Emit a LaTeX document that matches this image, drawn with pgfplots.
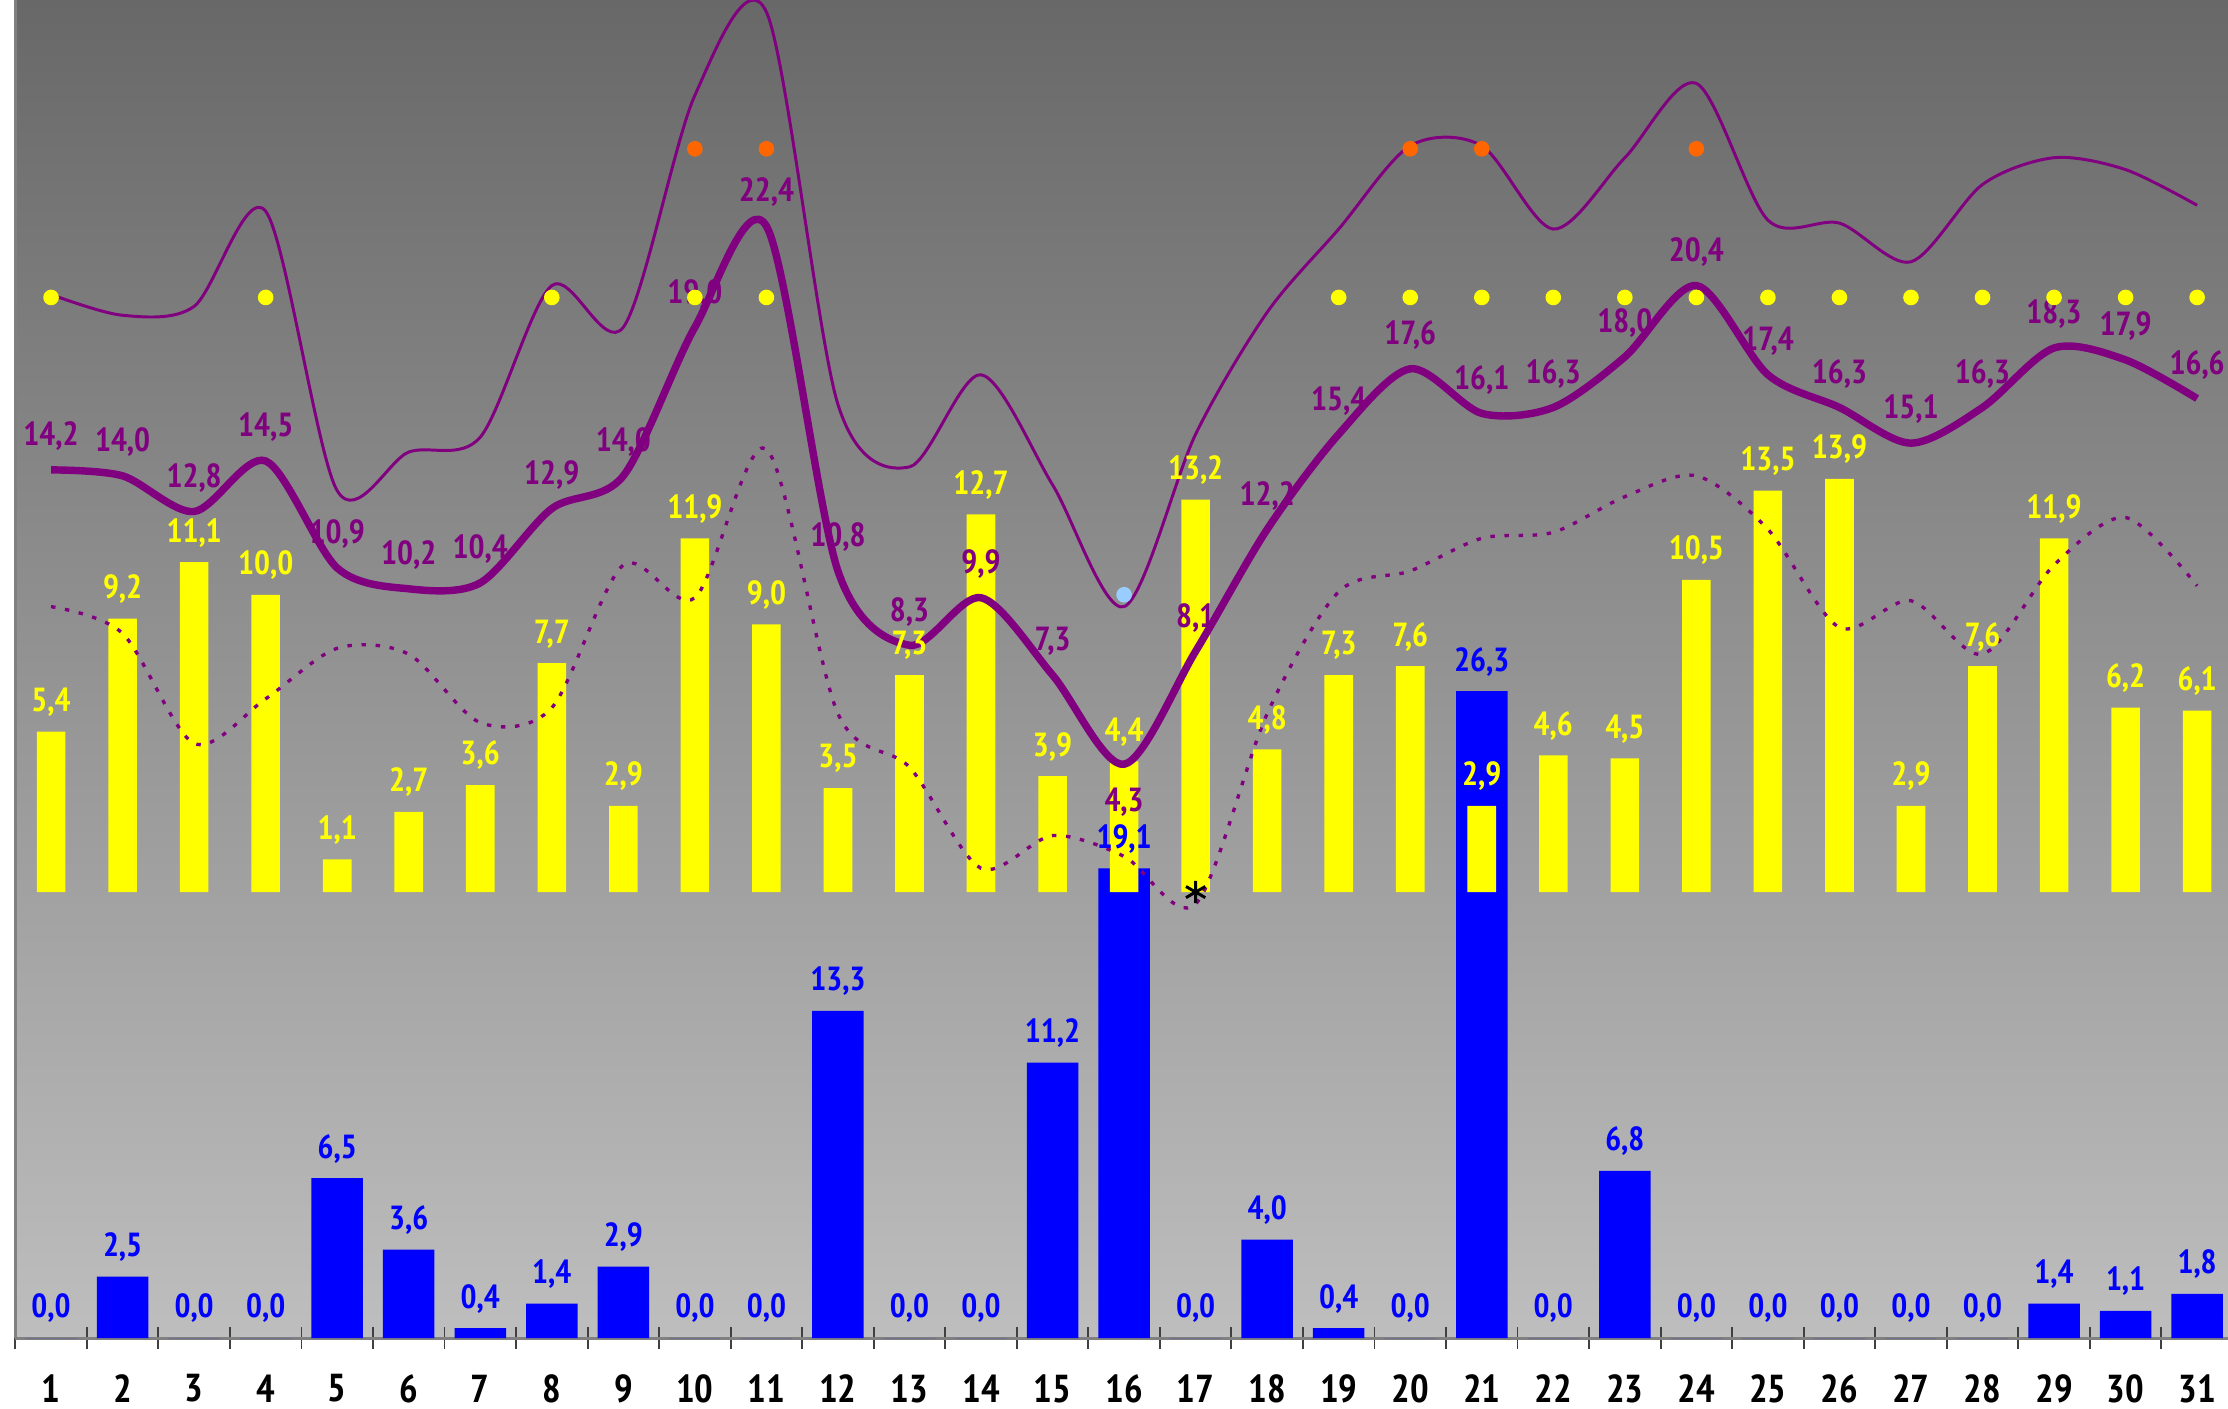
\documentclass[border=0pt]{standalone}
\usepackage{pgfplots}
\pgfplotsset{compat=1.18}
\usepackage{pgfplotstable}
\usepackage{fontspec}
\IfFontExistsTF{PT Sans Narrow}{\setmainfont{PT Sans Narrow}}{\setmainfont{PT Sans}}

\definecolor{rainblue}{RGB}{0,0,255}
\definecolor{sunyellow}{RGB}{255,255,0}
\definecolor{temppurple}{RGB}{128,0,128}
\definecolor{hotorange}{RGB}{255,102,0}
\definecolor{coldblue}{RGB}{153,204,255}
\definecolor{bgtop}{RGB}{104,104,104}
\definecolor{bgbottom}{RGB}{190,190,190}

% day, max/mean/min temperature, sunshine hours, precipitation, label side
\pgfplotstableread{
day tmax tmean tmin sun rain lab
1 20.1 14.2 9.6 5.4 0.0 1
2 19.4 14.0 8.7 9.2 2.5 1
3 19.7 12.8 5.0 11.1 0.0 1
4 22.9 14.5 6.5 10.0 0.0 1
5 13.5 10.9 8.2 1.1 6.5 1
6 14.8 10.2 8.0 2.7 3.6 1
7 15.3 10.4 5.7 3.6 0.4 1
8 20.4 12.9 6.2 7.7 1.4 1
9 19.0 14.0 11.0 2.9 2.9 1
10 26.8 19.0 9.9 11.9 0.0 1
11 29.6 22.4 14.9 9.0 0.0 1
12 16.4 10.8 6.0 3.5 13.3 1
13 14.3 8.3 4.2 7.3 0.0 1
14 17.4 9.9 0.8 12.7 0.0 1
15 13.7 7.3 1.9 3.9 11.2 1
16 9.6 4.3 1.2 4.4 19.1 -1
17 15.4 8.1 -0.4 13.2 0.0 1
18 19.5 12.2 6.0 4.8 4.0 1
19 22.3 15.4 10.1 7.3 0.4 1
20 25.1 17.6 10.8 7.6 0.0 1
21 25.1 16.1 11.9 2.9 26.3 1
22 22.3 16.3 12.1 4.6 0.0 1
23 24.7 18.0 13.3 4.5 6.8 1
24 27.2 20.4 14.0 10.5 0.0 1
25 22.6 17.4 12.2 13.5 0.0 1
26 22.5 16.3 8.9 13.9 0.0 1
27 21.2 15.1 9.8 2.9 0.0 1
28 23.8 16.3 8.0 7.6 0.0 1
29 24.7 18.3 11.0 11.9 1.4 1
30 24.3 17.9 12.6 6.2 1.1 1
31 23.1 16.6 10.3 6.1 1.8 1
}\monthdata

% markers: summer days (20), hot days (25), cold day (10), frost (0)
\pgfplotstableread{
day v
1 20
4 20
8 20
10 20
11 20
19 20
20 20
21 20
22 20
23 20
24 20
25 20
26 20
27 20
28 20
29 20
30 20
31 20
}\summerdays
\pgfplotstableread{
day v
10 25
11 25
20 25
21 25
24 25
}\hotdays
\pgfplotstableread{
day v
16 10
}\colddays
\pgfplotstableread{
day v
17 0
}\frostdays

\pgfplotsset{
  monthgrid/.style={
    at={(4.12pt,19.1pt)}, anchor=south west,
    scale only axis, width=597.2pt, height=360.3pt,
    xmin=0.5, xmax=31.5, clip=false,
  },
  vallabel/.style={
    nodes near coords, point meta=y,
    every node near coord/.append style={
      font=\bfseries\fontsize{9}{10}\selectfont, anchor=base,
      /pgf/number format/assume math mode=true,
      /pgf/number format/fixed, /pgf/number format/fixed zerofill,
      /pgf/number format/precision=1, /pgf/number format/use comma},
  },
}

\begin{document}
\begin{tikzpicture}
\useasboundingbox (0,0) rectangle (600pt,379.44pt);

% precipitation axis, background and day axis
\begin{axis}[monthgrid, ymin=0, ymax=54.4,
  axis background/.style={shade, top color=bgtop, bottom color=bgbottom},
  axis x line*=bottom, axis y line*=left, ytick=\empty,
  axis line style={draw=gray, line width=0.8pt},
  xtick={1,...,31}, major tick length=0pt,
  minor xtick={0.5,1.5,...,31.5}, minor tick length=6pt, xtick align=center,
  every minor tick/.append style={draw=black!75, line width=0.5pt},
  /pgf/number format/assume math mode=true,
  xticklabel style={font=\bfseries\fontsize{10.5}{12}\selectfont, anchor=center, yshift=-13.6pt},
]
\addplot[ybar, bar width=0.72, fill=rainblue, draw=none] table[x=day, y=rain] {\monthdata};
\end{axis}

% sunshine and temperature axis
\begin{axis}[monthgrid, ymin=-15, ymax=30, hide axis]
\addplot[ybar, bar width=0.4, fill=sunyellow, draw=none] table[x=day, y=sun] {\monthdata};
\addplot[temppurple, line width=0.8pt, smooth, mark=none] table[x=day, y=tmax] {\monthdata};
\addplot[temppurple, line width=0.9pt, smooth, mark=none, dash pattern=on 1.2pt off 2.6pt] table[x=day, y=tmin] {\monthdata};
\addplot[temppurple, line width=2pt, smooth, mark=none] table[x=day, y=tmean] {\monthdata};
\addplot[draw=none, mark=none, vallabel,
  every node near coord/.append style={text=sunyellow, yshift=5.4pt}] table[x=day, y=sun] {\monthdata};
\addplot[draw=none, mark=none, vallabel,
  visualization depends on={\thisrow{lab} \as \labdir},
  every node near coord/.append style={text=temppurple, yshift=\labdir*9.6pt-3.1pt}] table[x=day, y=tmean] {\monthdata};
\addplot[only marks, mark=*, mark size=1.9pt, mark options={fill=sunyellow, draw=sunyellow}] table[x=day, y=v] {\summerdays};
\addplot[only marks, mark=*, mark size=1.9pt, mark options={fill=hotorange, draw=hotorange}] table[x=day, y=v] {\hotdays};
\addplot[only marks, mark=*, mark size=1.9pt, mark options={fill=coldblue, draw=coldblue}] table[x=day, y=v] {\colddays};
\addplot[only marks, mark=asterisk, mark size=3pt, mark options={draw=black, line width=0.8pt}] table[x=day, y=v] {\frostdays};
\end{axis}

% precipitation labels on top
\begin{axis}[monthgrid, ymin=0, ymax=54.4, hide axis]
\addplot[draw=none, mark=none, vallabel,
  every node near coord/.append style={text=rainblue, yshift=5.4pt}] table[x=day, y=rain] {\monthdata};
\end{axis}
\end{tikzpicture}
\end{document}
